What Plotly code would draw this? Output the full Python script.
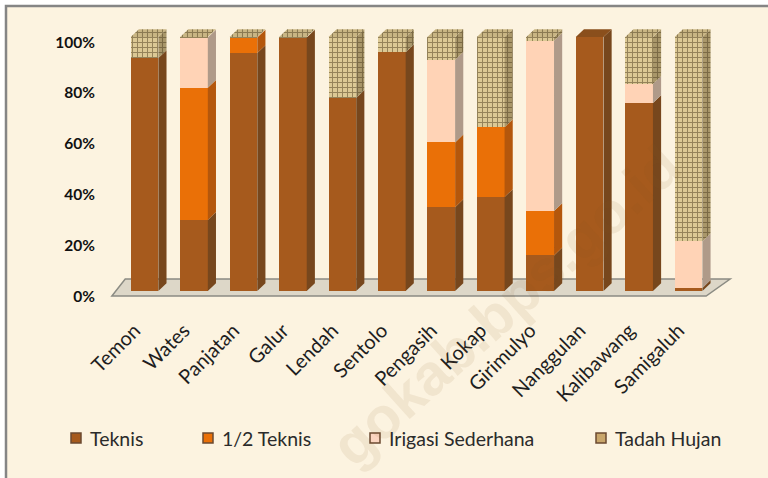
import plotly.graph_objects as go

categories = ["Temon", "Wates", "Panjatan", "Galur", "Lendah", "Sentolo", "Pengasih",
              "Kokap", "Girimulyo", "Nanggulan", "Kalibawang", "Samigaluh"]
teknis = [91.7, 28.0, 93.7, 99.8, 76.0, 94.0, 33.0, 37.0, 14.0, 100.0, 74.0, 1.2]
setengah_teknis = [0, 52.0, 6.1, 0, 0, 0, 25.5, 27.5, 17.5, 0, 0, 0]
irigasi_sederhana = [0, 19.8, 0, 0, 0, 0, 32.5, 0, 67.0, 0, 7.5, 18.3]
tadah_hujan = [8.3, 0.2, 0.2, 0.2, 24.0, 6.0, 9.0, 35.5, 1.5, 0, 18.5, 80.5]
tick_values = [0, 20, 40, 60, 80, 100]

series = [
    dict(name="Teknis", v=teknis, front="#A65A1D", side="#77471D", top="#8A4F1C", swatch="#A65A1D", px=76),
    dict(name="1/2 Teknis", v=setengah_teknis, front="#EA7007", side="#B4570C", top="#C9620A", swatch="#EA7007", px=208),
    dict(name="Irigasi Sederhana", v=irigasi_sederhana, front="#FFD3B6", side="#AF9A89", top="#E8CDB8", swatch="#FBD5C0", px=375),
    dict(name="Tadah Hujan", v=tadah_hujan, front="#DCC995", side="#A9976A", top="#C9B684", swatch="#C9A66B", px=601),
]
PATTERN = dict(shape="+", size=5, solidity=0.36, fgcolor="#4E3E20", fillmode="overlay")

BAR_W = 0.56
DX, DY = 0.165, 3.1      # depth of the 3-D effect, in axis units
LABEL_SHIFT = 2          # tick labels sit on the floor's front edge
XLABEL_SHIFT = 0.2       # category labels end left of the bar centre

fig = go.Figure()
xs = list(range(len(categories)))
cum = [0.0] * len(categories)

for k, s in enumerate(series):
    hatch = s["name"] == "Tadah Hujan"
    fig.add_bar(
        x=xs, y=s["v"], base=cum, width=BAR_W, name=s["name"], showlegend=False,
        marker=dict(color=s["front"], line_width=0, pattern=PATTERN if hatch else None),
    )
    sx, sy, tx, ty = [], [], [], []
    for i, val in enumerate(s["v"]):
        if val <= 0:
            continue
        x1 = i + BAR_W / 2
        x0 = i - BAR_W / 2
        y0, y1 = cum[i], cum[i] + val
        sx += [x1, x1 + DX, x1 + DX, x1, x1, None]
        sy += [y0, y0 + DY, y1 + DY, y1, y0, None]
        if all(later["v"][i] == 0 for later in series[k + 1:]):
            tx += [x0, x1, x1 + DX, x0 + DX, x0, None]
            ty += [y1, y1, y1 + DY, y1 + DY, y1, None]
    for X, Y, col in ((sx, sy, s["side"]), (tx, ty, s["top"])):
        fig.add_scatter(
            x=X, y=Y, mode="lines", fill="toself", fillcolor=col, line_width=0,
            showlegend=False, hoverinfo="skip",
            fillpattern=dict(shape="+", size=5, solidity=0.38, fgcolor="#4E3E20",
                             bgcolor=col, fillmode="overlay") if hatch else None,
        )
    cum = [c + v for c, v in zip(cum, s["v"])]

# floor
last = len(categories) - 1
floor_x = [-0.66, last + 0.355, last + 0.84, -0.39]
floor_y = [-2.0, -2.0, 4.7, 4.7]
path = "M " + " L ".join(f"{a},{b}" for a, b in zip(floor_x, floor_y)) + " Z"

plot_l, plot_r, plot_t, plot_b = 100, 740, 20, 300
W, H = 768, 478


def lx(px):
    return (px - plot_l) / (plot_r - plot_l)


def ly(py):
    return (plot_b - py) / (plot_b - plot_t)


shapes = [
    dict(type="rect", xref="paper", yref="paper", layer="below",
         x0=lx(6), x1=lx(775), y0=ly(6), y1=ly(485),
         fillcolor="#FCF3E0", line=dict(color="#858585", width=2.5)),
    dict(type="path", xref="x", yref="y", layer="below", path=path,
         fillcolor="#DDD7C8", line=dict(color="#8B8B83", width=1.5)),
]
annotations = [dict(text="gokab.bps.go.id", xref="paper", yref="paper",
                    x=lx(505), y=ly(305), xanchor="center", yanchor="middle",
                    showarrow=False, textangle=-42,
                    font=dict(family="Liberation Sans", size=58, weight="bold",
                              color="rgba(130,85,30,0.09)"))]
LEG_Y = 438
for s in series:
    shapes.append(dict(type="rect", xref="paper", yref="paper",
                       x0=lx(s["px"] - 5), x1=lx(s["px"] + 5),
                       y0=ly(LEG_Y - 5), y1=ly(LEG_Y + 5),
                       fillcolor=s["swatch"], line=dict(color="#6B4A30", width=1.5)))
    annotations.append(dict(text=s["name"], xref="paper", yref="paper",
                            x=lx(s["px"] + 12), y=ly(LEG_Y), xanchor="left", yanchor="middle",
                            showarrow=False,
                            font=dict(family="Lato", size=19.5, color="#2b2b2b")))

fig.update_layout(
    width=W, height=H, autosize=False,
    margin=dict(l=plot_l, r=W - plot_r, t=plot_t, b=H - plot_b, pad=0),
    paper_bgcolor="white", plot_bgcolor="rgba(0,0,0,0)",
    barmode="overlay", bargap=0, showlegend=False,
    xaxis=dict(range=[-0.9, 12.04], tickmode="array",
               tickvals=[x - XLABEL_SHIFT for x in xs], ticktext=categories,
               tickangle=-45, showgrid=False, zeroline=False, showline=False, ticks="",
               ticklabelstandoff=14, tickfont=dict(family="Lato", size=20, color="#1e1e1e")),
    yaxis=dict(range=[-3.54, 106.7], tickmode="array",
               tickvals=[t - LABEL_SHIFT for t in tick_values],
               ticktext=[f"{t}%" for t in tick_values],
               showgrid=False, zeroline=False, showline=False, ticks="",
               ticklabelstandoff=4,
               tickfont=dict(family="Lato", size=15.5, color="#111111", weight="bold")),
    shapes=shapes,
    annotations=annotations,
)
fig.write_html("out.html", config={"displayModeBar": False},
               post_script="document.body.style.margin='0';document.body.style.overflow='hidden';")
